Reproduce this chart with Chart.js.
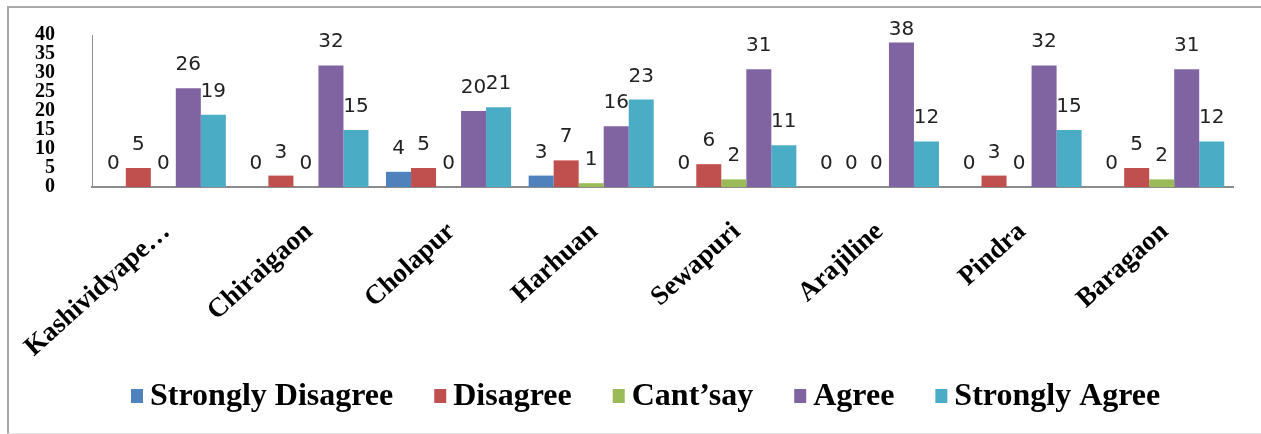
<!DOCTYPE html>
<html>
<head>
<meta charset="utf-8">
<script src="https://cdn.jsdelivr.net/npm/chart.js@4.4.1/dist/chart.umd.min.js"></script>
<style>
  html, body { margin: 0; padding: 0; background: #fff; }
  #wrap { position: relative; width: 1261px; height: 434px; overflow: hidden; }
  #frame {
    position: absolute; left: 7px; top: 6px; width: 1270px; height: 425px;
    border-left: 2px solid #a8a8a8; border-top: 2px solid #a8a8a8; border-bottom: 1px solid #e2e2e2;
  }
  canvas { position: absolute; left: 0; top: 0; }
</style>
</head>
<body>
<div id="wrap">
  <div id="frame"></div>
  <canvas id="chart" width="1261" height="434"></canvas>
</div>
<script>
// Blocks surveyed
const categories = ['Kashividyape…', 'Chiraigaon', 'Cholapur', 'Harhuan', 'Sewapuri', 'Arajiline', 'Pindra', 'Baragaon'];

// Number of respondents per response, one array per series
const stronglyDisagree = [0, 0, 4, 3, 0, 0, 0, 0];
const disagree         = [5, 3, 5, 7, 6, 0, 3, 5];
const cantSay          = [0, 0, 0, 1, 2, 0, 0, 2];
const agree            = [26, 32, 20, 16, 31, 38, 32, 31];
const stronglyAgree    = [19, 15, 21, 23, 11, 12, 15, 12];

const seriesNames = ['Strongly Disagree', 'Disagree', 'Cant’say', 'Agree', 'Strongly Agree'];
const seriesColors = ['#4F81BD', '#C0504D', '#9BBB59', '#8064A2', '#4BACC6'];
const seriesValues = [stronglyDisagree, disagree, cantSay, agree, stronglyAgree];

// Value axis
const yMin = 0, yMax = 40, yStep = 5;

const serif = '"Liberation Serif", "Times New Roman", serif';

// Value written above every bar, kept from running off the top
const valueLabels = {
  id: 'valueLabels',
  afterDatasetsDraw(chart, args, opts) {
    const ctx = chart.ctx;
    ctx.save();
    ctx.font = '20px "DejaVu Sans", sans-serif';
    ctx.fillStyle = '#222';
    ctx.textAlign = 'center';
    ctx.textBaseline = 'alphabetic';
    chart.data.datasets.forEach((ds, i) => {
      chart.getDatasetMeta(i).data.forEach((bar, j) => {
        const y = Math.max(bar.y - opts.gap, opts.minBaseline);
        ctx.fillText(String(ds.data[j]), bar.x, y);
      });
    });
    ctx.restore();
  }
};

// Single-row legend under the axis labels
const legendRow = {
  id: 'legendRow',
  afterDraw(chart, args, opts) {
    const ctx = chart.ctx;
    ctx.save();
    ctx.font = 'bold 32px ' + serif;
    ctx.textAlign = 'left';
    ctx.textBaseline = 'alphabetic';
    let x = opts.left;
    chart.data.datasets.forEach(ds => {
      ctx.fillStyle = ds.backgroundColor;
      ctx.fillRect(x, opts.baseline - 16, opts.box, opts.box + 2);
      x += opts.box + opts.gap;
      ctx.fillStyle = '#000';
      ctx.fillText(ds.label, x, opts.baseline);
      x += ctx.measureText(ds.label).width + opts.spacing;
    });
    ctx.restore();
  }
};

new Chart(document.getElementById('chart'), {
  type: 'bar',
  data: {
    labels: categories,
    datasets: seriesNames.map((name, i) => ({
      label: name,
      data: seriesValues[i],
      backgroundColor: seriesColors[i],
      borderWidth: 0,
      categoryPercentage: 0.877,
      barPercentage: 1.0
    }))
  },
  options: {
    responsive: false,
    animation: false,
    layout: { padding: { left: 0, right: 28, top: 35, bottom: 75 } },
    plugins: {
      legend: { display: false },
      tooltip: { enabled: false },
      valueLabels: { gap: 18, minBaseline: 35 },
      legendRow: { left: 131, baseline: 405, box: 12, gap: 7, spacing: 41 }
    },
    scales: {
      x: {
        grid: { display: false, drawTicks: false },
        border: { display: true, color: '#8c8c8c', width: 2 },
        ticks: {
          autoSkip: false,
          minRotation: 42,
          maxRotation: 42,
          padding: 29,
          labelOffset: 3,
          color: '#000',
          font: { family: serif, size: 27, weight: 'bold' }
        },
        afterFit(scale) {
          scale.height = 172;
          scale.paddingLeft = 0;
          scale.paddingRight = 0;
        }
      },
      y: {
        min: yMin,
        max: yMax,
        grid: { display: false, drawTicks: false },
        border: { display: true, color: '#8c8c8c', width: 1 },
        ticks: {
          stepSize: yStep,
          autoSkip: false,
          padding: 37,
          color: '#000',
          font: { family: serif, size: 20, weight: 'bold' }
        },
        afterFit(scale) {
          scale.width = 92;
          scale.paddingTop = 0;
          scale.paddingBottom = 0;
        }
      }
    }
  },
  plugins: [valueLabels, legendRow]
});
</script>
</body>
</html>
